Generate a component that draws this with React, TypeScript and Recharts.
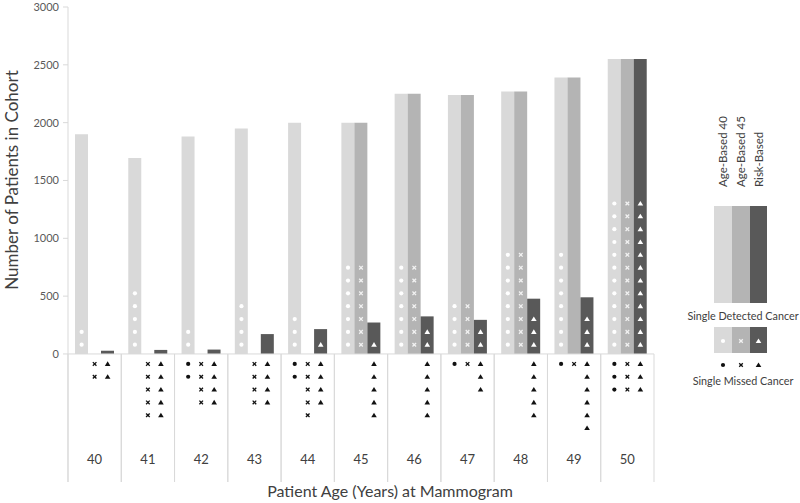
import React from 'react';
import { ComposedChart, Bar, Scatter, XAxis, YAxis, ReferenceLine, ReferenceArea } from 'recharts';

const FONT = 'Lato, "Open Sans", sans-serif';

const ages = ['40', '41', '42', '43', '44', '45', '46', '47', '48', '49', '50'];

// cohort sizes per strategy
const ageBased40 = [1900, 1695, 1880, 1950, 2000, 2000, 2250, 2240, 2270, 2390, 2550];
const ageBased45 = [0, 0, 0, 0, 0, 2000, 2250, 2240, 2270, 2390, 2550];
const riskBased = [28, 35, 38, 172, 215, 272, 325, 295, 478, 490, 2550];

// single detected cancers (white marks inside the bars)
const detected40 = [2, 5, 2, 4, 3, 7, 7, 4, 8, 8, 12];
const detected45 = [0, 0, 0, 0, 0, 7, 7, 4, 8, 0, 12];
const detectedRisk = [0, 0, 0, 0, 1, 1, 2, 2, 3, 3, 12];

// single missed cancers (black marks under the axis)
const missed40 = [0, 0, 2, 0, 2, 0, 0, 1, 0, 1, 3];
const missed45 = [2, 5, 4, 4, 5, 0, 0, 1, 0, 1, 3];
const missedRisk = [2, 5, 4, 4, 4, 5, 5, 3, 5, 6, 3];

const yTicks = [0, 500, 1000, 1500, 2000, 2500, 3000];
const Y_MIN = -1107;

const LIGHT = '#d9d9d9';
const MID = '#b4b4b4';
const DARK = '#595959';
const BAR = 13;

const data = ages.map((age, i) => ({
  age,
  ageBased40: ageBased40[i],
  ageBased45: ageBased45[i],
  riskBased: riskBased[i],
}));

// one mark per case, stacked in slots of 111 patients
function unitMarks(counts: number[], first: number, step: number) {
  const pts: { age: string; v: number }[] = [];
  counts.forEach((n, i) => {
    for (let k = 0; k < n; k++) pts.push({ age: ages[i], v: first + step * k });
  });
  return pts;
}

const Dot = ({ cx, cy, color }: any) => <circle cx={cx} cy={cy} r={2.1} fill={color} />;
const Cross = ({ cx, cy, color }: any) => (
  <g stroke={color} strokeWidth={1.3}>
    <line x1={cx - 1.8} y1={cy - 1.8} x2={cx + 1.8} y2={cy + 1.8} />
    <line x1={cx - 1.8} y1={cy + 1.8} x2={cx + 1.8} y2={cy - 1.8} />
  </g>
);
const Tri = ({ cx, cy, color }: any) => (
  <polygon points={`${cx},${cy - 2.6} ${cx - 2.8},${cy + 2} ${cx + 2.8},${cy + 2}`} fill={color} />
);

const Separator = ({ x, y, width, height }: any) => (
  <g stroke={LIGHT} strokeWidth={1}>
    <line x1={x} y1={y} x2={x} y2={y + height} />
    <line x1={x + width} y1={y} x2={x + width} y2={y + height} />
  </g>
);

const AgeTick = ({ x, y, payload }: any) => (
  <text x={x} y={y - 18} textAnchor="middle" fontSize={13} fill="#404040" fontFamily={FONT}>
    {payload.value}
  </text>
);

export default function App() {
  return (
    <div style={{ position: 'absolute', left: 0, top: 0, width: 800, height: 503, background: '#fff' }}>
      <ComposedChart
        width={800}
        height={503}
        data={data}
        margin={{ top: 7, right: 146, left: 0, bottom: 0 }}
        barGap={0}
      >
        {ages.map((a) => (
          <ReferenceArea key={a} x1={a} x2={a} y1={Y_MIN} y2={0} shape={<Separator />} />
        ))}
        <XAxis
          dataKey="age"
          type="category"
          allowDuplicatedCategory={false}
          axisLine={false}
          tickLine={false}
          tickSize={0}
          tickMargin={0}
          height={21}
          tick={<AgeTick />}
        />
        <YAxis
          type="number"
          domain={[Y_MIN, 3000]}
          ticks={yTicks}
          allowDataOverflow
          width={68}
          tickSize={5}
          tickMargin={4}
          stroke={LIGHT}
          tick={{ fill: '#595959', fontSize: 11, fontFamily: FONT }}
        />
        <ReferenceLine y={0} stroke={LIGHT} />
        <Bar dataKey="ageBased40" fill={LIGHT} barSize={BAR} isAnimationActive={false} />
        <Bar dataKey="ageBased45" fill={MID} barSize={BAR} isAnimationActive={false} />
        <Bar dataKey="riskBased" fill={DARK} barSize={BAR} isAnimationActive={false} />

        <Scatter data={unitMarks(detected40, 80, 111)} dataKey="v" isAnimationActive={false}
          shape={(p: any) => <Dot cx={p.cx - BAR} cy={p.cy} color="#fff" />} />
        <Scatter data={unitMarks(detected45, 80, 111)} dataKey="v" isAnimationActive={false}
          shape={(p: any) => <Cross cx={p.cx} cy={p.cy} color="#f2f2f2" />} />
        <Scatter data={unitMarks(detectedRisk, 80, 111)} dataKey="v" isAnimationActive={false}
          shape={(p: any) => <Tri cx={p.cx + BAR} cy={p.cy} color="#fff" />} />
        <Scatter data={unitMarks(missed40, -86, -111)} dataKey="v" isAnimationActive={false}
          shape={(p: any) => <Dot cx={p.cx - BAR} cy={p.cy} color="#111" />} />
        <Scatter data={unitMarks(missed45, -86, -111)} dataKey="v" isAnimationActive={false}
          shape={(p: any) => <Cross cx={p.cx} cy={p.cy} color="#111" />} />
        <Scatter data={unitMarks(missedRisk, -86, -111)} dataKey="v" isAnimationActive={false}
          shape={(p: any) => <Tri cx={p.cx + BAR} cy={p.cy} color="#111" />} />
      </ComposedChart>

      {/* titles and the legend panel */}
      <svg width={800} height={503} style={{ position: 'absolute', left: 0, top: 0, pointerEvents: 'none' }}
        fontFamily={FONT}>
        <text x={18} y={180} transform="rotate(-90 18 180)" textAnchor="middle" fontSize={17} fill="#404040">
          Number of Patients in Cohort
        </text>
        <text x={390} y={497} textAnchor="middle" fontSize={16} fill="#404040">
          Patient Age (Years) at Mammogram
        </text>

        <text x={727} y={187} transform="rotate(-90 727 187)" fontSize={11.5} fill="#404040">Age-Based 40</text>
        <text x={745} y={187} transform="rotate(-90 745 187)" fontSize={11.5} fill="#404040">Age-Based 45</text>
        <text x={763} y={187} transform="rotate(-90 763 187)" fontSize={11.5} fill="#404040">Risk-Based</text>
        <rect x={714} y={206} width={18} height={97} fill={LIGHT} />
        <rect x={732} y={206} width={18} height={97} fill={MID} />
        <rect x={750} y={206} width={17} height={97} fill={DARK} />
        <text x={743} y={320} textAnchor="middle" fontSize={10.8} fill="#404040">Single Detected Cancer</text>

        <rect x={714} y={327} width={18} height={26} fill={LIGHT} />
        <rect x={732} y={327} width={18} height={26} fill={MID} />
        <rect x={750} y={327} width={17} height={26} fill={DARK} />
        <Dot cx={723} cy={341} color="#fff" />
        <Cross cx={741} cy={341} color="#f2f2f2" />
        <Tri cx={758.5} cy={341} color="#fff" />
        <Dot cx={723} cy={365} color="#111" />
        <Cross cx={741} cy={365} color="#111" />
        <Tri cx={758.5} cy={365} color="#111" />
        <text x={743} y={385} textAnchor="middle" fontSize={10.8} fill="#404040">Single Missed Cancer</text>
      </svg>
    </div>
  );
}
